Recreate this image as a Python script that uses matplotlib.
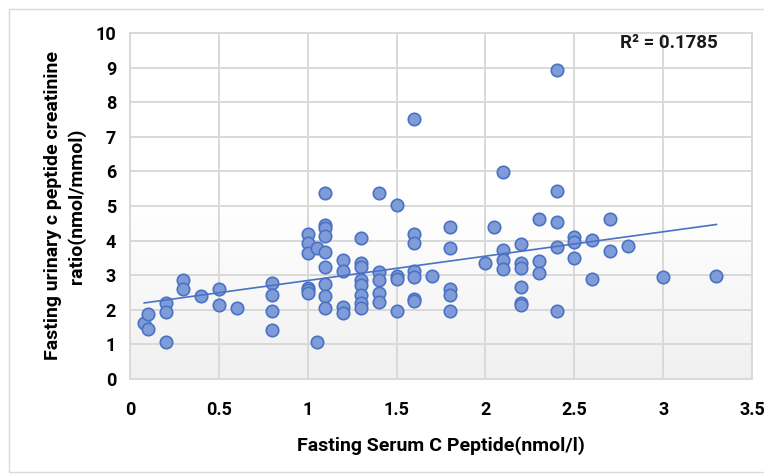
import numpy as np
import matplotlib
matplotlib.use("Agg")
import matplotlib.pyplot as plt
from matplotlib.patches import Rectangle

# ---- data ----
serum_c_peptide = [
    0.08, 0.10, 0.10, 0.20, 0.20, 0.20, 0.30, 0.30, 0.40, 0.50, 0.50, 0.60,
    0.80, 0.80, 0.80, 0.80,
    1.00, 1.00, 1.00, 1.00, 1.00, 1.00,
    1.05, 1.05,
    1.10, 1.10, 1.10, 1.10, 1.10, 1.10, 1.10, 1.10, 1.10,
    1.20, 1.20, 1.20, 1.20,
    1.30, 1.30, 1.30, 1.30, 1.30, 1.30, 1.30, 1.30,
    1.40, 1.40, 1.40, 1.40, 1.40,
    1.50, 1.50, 1.50, 1.50,
    1.60, 1.60, 1.60, 1.60, 1.60, 1.60, 1.60,
    1.70,
    1.80, 1.80, 1.80, 1.80, 1.80,
    2.00, 2.05,
    2.10, 2.10, 2.10, 2.10,
    2.20, 2.20, 2.20, 2.20, 2.20, 2.20,
    2.30, 2.30, 2.30,
    2.40, 2.40, 2.40, 2.40, 2.40,
    2.50, 2.50, 2.50,
    2.60, 2.60,
    2.70, 2.70,
    2.80, 3.00, 3.30,
]
urinary_ratio = [
    1.61, 1.88, 1.45, 2.19, 1.95, 1.08, 2.86, 2.61, 2.40, 2.59, 2.14, 2.06,
    2.78, 2.43, 1.97, 1.42,
    4.19, 3.94, 3.64, 2.63, 2.58, 2.50,
    3.78, 1.08,
    5.37, 4.45, 4.36, 4.14, 3.67, 3.25, 2.76, 2.39, 2.05,
    3.43, 3.13, 2.08, 1.92,
    4.08, 3.36, 3.25, 2.87, 2.71, 2.42, 2.21, 2.05,
    5.37, 3.08, 2.87, 2.48, 2.23,
    5.02, 2.97, 2.90, 1.96,
    7.52, 4.19, 3.94, 3.13, 2.95, 2.32, 2.25,
    2.97,
    4.40, 3.80, 2.61, 2.42, 1.97,
    3.36, 4.40,
    5.97, 3.73, 3.44, 3.17,
    3.90, 3.34, 3.20, 2.67, 2.21, 2.14,
    4.62, 3.42, 3.05,
    8.93, 5.43, 4.55, 3.82, 1.97,
    4.10, 3.97, 3.51,
    4.02, 2.88,
    4.63, 3.71,
    3.84, 2.94, 2.98,
]
x_ticks = [0, 0.5, 1, 1.5, 2, 2.5, 3, 3.5]
x_tick_labels = ["0", "0.5", "1", "1.5", "2", "2.5", "3", "3.5"]
y_ticks = list(range(0, 11))
r2_label = "R\u00b2 = 0.1785"
x_label = "Fasting Serum C Peptide(nmol/l)"
y_label = "Fasting urinary c peptide creatinine\nratio(nmol/mmol)"

plt.rcParams['font.family'] = ['Roboto', 'DejaVu Sans']

fig = plt.figure(figsize=(7.64, 4.76), dpi=100)
fig.patch.set_facecolor("white")
# chart-area border
fig.patches.append(Rectangle((9 / 764, 4 / 476), 1.2, 1 - 13 / 476,
                             transform=fig.transFigure, fill=False,
                             edgecolor="#d9d9d9", linewidth=1.0))

ax = fig.add_axes([130 / 764, 1 - 379 / 476, 622 / 764, 346 / 476])
ax.set_xlim(0, 3.5)
ax.set_ylim(0, 10)

# subtle vertical gradient background
grad = np.linspace(0, 1, 256).reshape(-1, 1)
ax.imshow(grad, extent=[0, 3.5, 0, 10], aspect="auto", origin="upper",
          cmap=matplotlib.colors.LinearSegmentedColormap.from_list(
              "g", ["#ffffff", "#ffffff", "#f0f0f0"]), zorder=0)

ax.set_xticks(x_ticks)
ax.set_xticklabels(x_tick_labels)
ax.set_yticks(y_ticks)
ax.grid(True, color="#d9d9d9", linewidth=1.4, zorder=1)
for s in ax.spines.values():
    s.set_color("#d9d9d9")
    s.set_linewidth(1.4)
ax.tick_params(axis="y", length=0, labelsize=13, pad=10)
ax.tick_params(axis="x", length=0, labelsize=13, pad=16)
for lab in ax.get_xticklabels() + ax.get_yticklabels():
    lab.set_fontweight("bold")

xs = np.array(serum_c_peptide)
ys = np.array(urinary_ratio)
ax.scatter(xs, ys, s=80, facecolor="#7f9bd8", edgecolor="#4a72c4",
           linewidth=1.2, zorder=3, clip_on=False)

# linear trendline
m, b = np.polyfit(xs, ys, 1)
xl = np.array([xs.min(), xs.max()])
ax.plot(xl, m * xl + b, color="#4a72c4", linewidth=1.2, zorder=4)

ax.text(3.31, 9.72, r2_label, ha="right", va="center", fontsize=13.5,
        fontweight="bold", color="#1a1a1a")

ax.set_xlabel(x_label, fontsize=14, fontweight="bold", labelpad=12)
ax.set_ylabel(y_label, fontsize=14, fontweight="bold", labelpad=7,
              linespacing=1.35)

fig.savefig("out.png", dpi=100)
